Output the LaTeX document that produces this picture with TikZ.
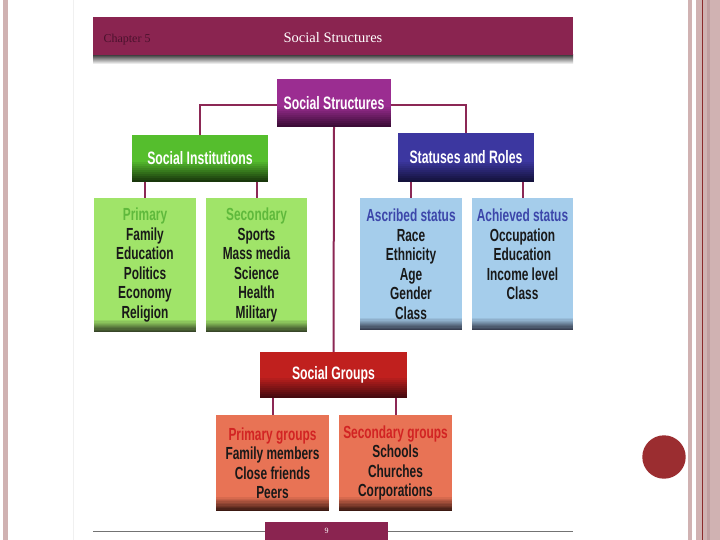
\documentclass[tikz,border=0pt]{standalone}
\usepackage{fontspec}
\setmainfont{Liberation Sans}
\newfontfamily\condfont{Liberation Sans}[FakeStretch=0.68]
\newfontfamily\serifont{Liberation Serif}
\definecolor{maroon}{RGB}{138,36,80}
\definecolor{linecol}{RGB}{140,40,85}
\definecolor{purp}{RGB}{155,45,145}
\definecolor{purpdk}{RGB}{60,12,55}
\definecolor{grn}{RGB}{85,190,45}
\definecolor{grndk}{RGB}{25,55,12}
\definecolor{blu}{RGB}{60,55,160}
\definecolor{bludk}{RGB}{20,18,60}
\definecolor{lgrn}{RGB}{160,228,105}
\definecolor{lgrndk}{RGB}{55,70,40}
\definecolor{lblu}{RGB}{165,205,235}
\definecolor{lbludk}{RGB}{55,62,80}
\definecolor{redb}{RGB}{192,32,30}
\definecolor{redbdk}{RGB}{70,10,15}
\definecolor{orab}{RGB}{232,115,85}
\definecolor{orabdk}{RGB}{60,25,18}
\definecolor{tgrn}{RGB}{95,185,60}
\definecolor{tblu}{RGB}{60,70,170}
\definecolor{tred}{RGB}{210,35,35}
\definecolor{strip}{RGB}{208,178,178}
\definecolor{stripdk}{RGB}{192,158,160}
\definecolor{dotred}{RGB}{155,45,48}
\definecolor{chaptxt}{RGB}{75,18,45}
\begin{document}
\begin{tikzpicture}[x=1pt,y=-1pt,
  gbox/.style n args={3}{fill=#1, inner sep=0pt, align=center,
    path picture={
      \foreach \k [evaluate=\k as \pct using int(\k*10)] in {0,...,10}
        \fill[#2!\pct!#1] ([yshift={(#3)*(11-\k)/11}]path picture bounding box.south west)
          rectangle (path picture bounding box.south east);}},
  headtxt/.style={text=white, font=\condfont\bfseries\fontsize{18}{21}\selectfont},
  bodytxt/.style={text=black!90, font=\condfont\bfseries\fontsize{17.5}{19.5}\selectfont},
  conn/.style={draw=linecol, line width=2pt}
]
\useasboundingbox (0,0) rectangle (720,540);
\fill[white] (0,0) rectangle (720,540);
% slide frame
\fill[strip] (3,0) rectangle (8,540);
\draw[black!6] (73,0) -- (73,540);
\fill[strip] (688,0) rectangle (692,540);
\fill[strip] (696,0) rectangle (720,540);
\fill[stripdk] (707,0) rectangle (710,540);
\draw[dotred!90!black, line width=0.7pt] (702,0) -- (702,540);
\fill[dotred] (664,457) circle (21.7);
% header bar
\shade[top color=black!75, bottom color=white] (93,55) rectangle (573,64);
\node[fill=maroon, minimum width=480pt, minimum height=38pt, inner sep=0pt] (hdr) at (333,36) {};
\node[anchor=west, text=chaptxt, font=\serifont\fontsize{12}{14}\selectfont] (chap) at (100,40) {Chapter 5};
\node[text=white, font=\serifont\fontsize{14.5}{16}\selectfont] (hdrtitle) at (333,38) {Social Structures};
% main nodes
\node[gbox={purp}{purpdk}{22pt}, minimum width=114pt, minimum height=48pt, headtxt] (ss) at (334,103) {Social Structures};
\node[gbox={grn}{grndk}{22pt}, minimum width=136pt, minimum height=47pt, headtxt] (si) at (200,158.5) {Social Institutions};
\node[gbox={blu}{bludk}{22pt}, minimum width=136pt, minimum height=49pt, headtxt] (sr) at (466,157.5) {Statuses and Roles};
\node[gbox={redb}{redbdk}{22pt}, minimum width=147pt, minimum height=46pt, headtxt] (sg) at (333.5,375) {Social Groups};
% detail boxes
\node[gbox={lgrn}{lgrndk}{13pt}, minimum width=102pt, minimum height=134pt, bodytxt] (gp) at (145,265)
  {\textcolor{tgrn}{Primary}\\Family\\Education\\Politics\\Economy\\Religion};
\node[gbox={lgrn}{lgrndk}{13pt}, minimum width=101pt, minimum height=134pt, bodytxt] (gs) at (256.5,265)
  {\textcolor{tgrn}{Secondary}\\Sports\\Mass media\\Science\\Health\\Military};
\node[gbox={lblu}{lbludk}{13pt}, minimum width=102pt, minimum height=132pt, bodytxt] (ba) at (411,264)
  {\textcolor{tblu}{Ascribed status}\\Race\\Ethnicity\\Age\\Gender\\Class};
\node[gbox={lblu}{lbludk}{13pt}, minimum width=101pt, minimum height=132pt, bodytxt] (bb) at (522.5,264)
  {\textcolor{tblu}{Achieved status}\\Occupation\\Education\\Income level\\Class\\\mbox{}};
\node[gbox={orab}{orabdk}{15pt}, minimum width=113pt, minimum height=96pt, bodytxt] (op) at (272.5,463)
  {\textcolor{tred}{Primary groups}\\Family members\\Close friends\\Peers};
\node[gbox={orab}{orabdk}{15pt}, minimum width=113pt, minimum height=96pt, bodytxt] (os) at (395.5,463)
  {\textcolor{tred}{Secondary groups}\\Schools\\Churches\\Corporations};
% connectors
\draw[conn] ([yshift=-2pt]ss.west) -| (si.north);
\draw[conn] ([yshift=-2pt]ss.east) -| (sr.north);
\draw[conn] (ss.south) -- (sg.north);
\draw[conn] (si.south -| gp.north) -- (gp.north);
\draw[conn] (si.south -| gs.north) -- (gs.north);
\draw[conn] (sr.south -| ba.north) -- (ba.north);
\draw[conn] (sr.south -| bb.north) -- (bb.north);
\draw[conn] (sg.south -| op.north) -- (op.north);
\draw[conn] (sg.south -| os.north) -- (os.north);
% footer
\coordinate (fl) at (93,531);
\coordinate (fr) at (573,531);
\draw[black!55, line width=0.6pt] (fl) -- (fr);
\node[fill=maroon, minimum width=123pt, minimum height=19pt, inner sep=0pt, text=white, font=\serifont\fontsize{8}{9}\selectfont] (pg) at (326.5,531) {9};
\end{tikzpicture}
\end{document}
